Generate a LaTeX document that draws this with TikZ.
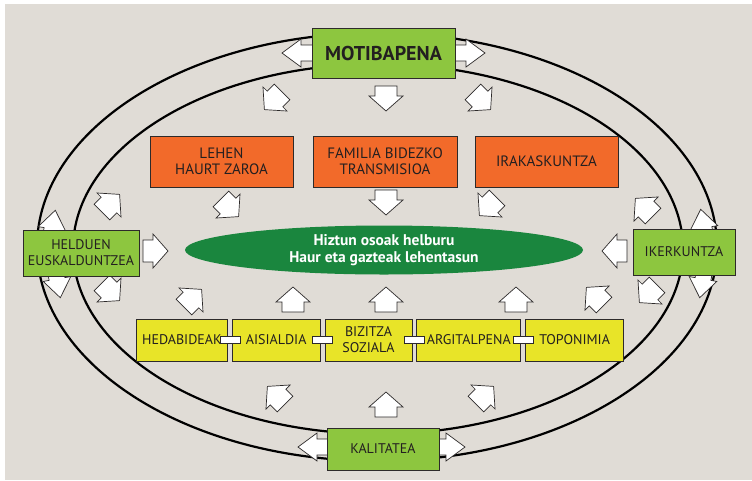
\documentclass[tikz,border=0pt]{standalone}
\usepackage{fontspec}
\setmainfont{PT Sans}
\usetikzlibrary{positioning,calc,shapes.geometric}
\definecolor{bgcol}{RGB}{224,220,214}
\definecolor{darkline}{RGB}{45,42,42}
\definecolor{textcol}{RGB}{35,31,32}
\definecolor{boxgreen}{RGB}{141,198,63}
\definecolor{boxorange}{RGB}{242,106,42}
\definecolor{boxyellow}{RGB}{232,228,40}
\definecolor{goalgreen}{RGB}{26,134,62}
\tikzset{
  box/.style={draw=darkline,line width=0.8pt,inner sep=0pt,align=center,text=textcol},
  greenbox/.style={box,fill=boxgreen,font=\fontsize{14}{16}\selectfont},
  orangebox/.style={box,fill=boxorange,minimum width=143pt,minimum height=51pt,
    font=\fontsize{15}{16}\selectfont},
  yellowbox/.style={box,fill=boxyellow,minimum height=42pt,font=\fontsize{14}{16}\selectfont},
  goal/.style={ellipse,fill=goalgreen,inner sep=0pt,minimum width=398pt,minimum height=49pt,
    align=center,text=white,font=\bfseries\fontsize{15.5}{17}\selectfont},
  ring/.style={line width=2.2pt,draw=black},
  blockarr/.style={fill=white,draw=darkline,line width=0.7pt},
  link/.style={draw=darkline,fill=white,line width=0.6pt,inner sep=0pt,
    minimum width=20pt,minimum height=7pt}
}
% block arrow: base of the head at (x,y), turned by angle
\newcommand{\blockarrow}[3]{%
  \draw[blockarr,shift={(#1,#2)},rotate=#3]
    (-10,-11) -- (0,-11) -- (0,-17) -- (15,0) -- (0,17) -- (0,11) -- (-10,11) -- cycle;}
% arrows along the rings, their tails go under the boxes
\newcommand{\sidearrow}[3]{%
  \draw[blockarr,shift={(#1,#2)},rotate=#3]
    (-22,-8) -- (0,-8) -- (0,-14) -- (19,0) -- (0,14) -- (0,8) -- (-22,8) -- cycle;}

\begin{document}
\begin{tikzpicture}[x=1pt,y=-1pt]
\useasboundingbox (0,0) rectangle (752,480);
\fill[bgcol] (5,4) rectangle (752,480);
% the two rings
\draw[ring] (377,247) ellipse [x radius=340,y radius=214];
\draw[ring] (378,249) ellipse [x radius=305,y radius=185];
% arrows along the rings
\sidearrow{301}{53}{180}
\sidearrow{466}{53}{0}
\sidearrow{317}{447}{180}
\sidearrow{446}{447}{0}
\sidearrow{52}{229}{80}
\sidearrow{57}{279}{-80}
\sidearrow{704}{228}{100}
\sidearrow{703}{279}{-100}
% arrows from the four green boxes
\blockarrow{275}{99}{225}
\blockarrow{386}{96}{-90}
\blockarrow{480}{99}{-45}
\blockarrow{153}{251}{0}
\blockarrow{109}{205}{45}
\blockarrow{109}{290}{-45}
\blockarrow{617}{251}{180}
\blockarrow{646}{209}{135}
\blockarrow{650}{292}{225}
\blockarrow{386}{407}{90}
\blockarrow{278}{397}{135}
\blockarrow{483}{397}{45}
% arrows to the goal
\blockarrow{228}{206}{-45}
\blockarrow{386}{200}{-90}
\blockarrow{490}{205}{225}
\blockarrow{191}{300}{45}
\blockarrow{293}{302}{90}
\blockarrow{386}{302}{90}
\blockarrow{516}{302}{90}
\blockarrow{597}{298}{135}
% green boxes
\node[greenbox,minimum width=143pt,minimum height=50pt,font=\bfseries\fontsize{20}{22}\selectfont]
  (moti) at (383.5,53) {MOTIBAPENA};
\node[greenbox,minimum width=116pt,minimum height=46pt] (held) at (81,253) {HELDUEN\\EUSKALDUNTZEA};
\node[greenbox,minimum width=102pt,minimum height=46pt] (iker) at (684,252) {IKERKUNTZA};
\node[greenbox,minimum width=112pt,minimum height=42pt] (kali) at (383,449) {KALITATEA};
% orange boxes
\node[orangebox] (lehen) at (221.5,161.5) {LEHEN\\HAURT ZAROA};
\node[orangebox,minimum width=144pt] (famil) at (385,161.5) {FAMILIA BIDEZKO\\TRANSMISIOA};
\node[orangebox] (irak) at (546.5,161.5) {IRAKASKUNTZA};
% goal
\node[goal] (goal) at (384,250) {Hiztun osoak helburu\\Haur eta gazteak lehentasun};
% yellow row
\node[yellowbox,minimum width=91pt,anchor=west] (heda) at (136,340) {HEDABIDEAK};
\node[yellowbox,minimum width=88pt,right=4pt of heda] (aisi) {AISIALDIA};
\node[yellowbox,minimum width=87pt,right=4pt of aisi] (bizi) {BIZITZA\\SOZIALA};
\node[yellowbox,minimum width=104pt,right=4pt of bizi] (argi) {ARGITALPENA};
\node[yellowbox,minimum width=98pt,right=4pt of argi] (topo) {TOPONIMIA};
% links between the yellow boxes
\node[link] at ($(heda.east)!0.5!(aisi.west)$) {};
\node[link] at ($(aisi.east)!0.5!(bizi.west)$) {};
\node[link] at ($(bizi.east)!0.5!(argi.west)$) {};
\node[link] at ($(argi.east)!0.5!(topo.west)$) {};
\end{tikzpicture}
\end{document}
